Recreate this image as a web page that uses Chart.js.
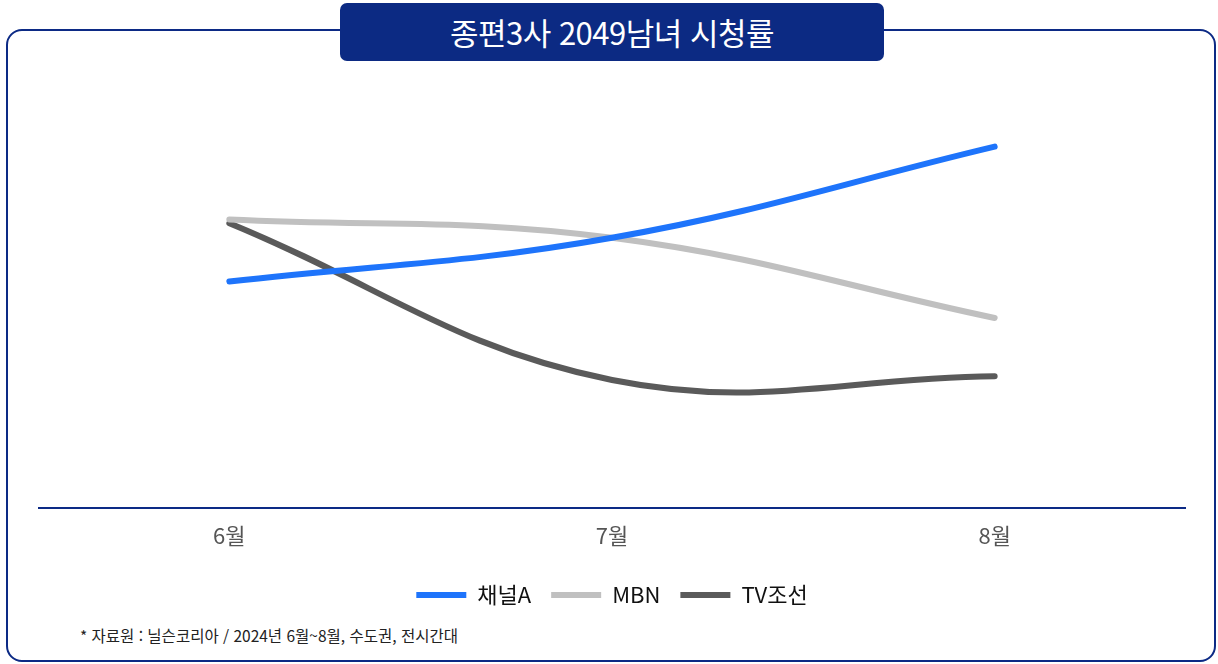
<!DOCTYPE html>
<html lang="ko">
<head>
<meta charset="utf-8">
<script src="https://cdn.jsdelivr.net/npm/chart.js@4/dist/chart.umd.min.js"></script>
<style>
  html, body { margin: 0; padding: 0; background: #fff; }
  body { width: 1218px; height: 664px; position: relative; overflow: hidden;
         font-family: "Noto Sans CJK KR", "Noto Sans", sans-serif; }
  .frame { position: absolute; left: 6px; top: 29px; width: 1206px; height: 629px;
           border: 2px solid #0c2a85; border-radius: 16px; }
  .title { position: absolute; left: 340px; top: 3px; width: 544px; height: 58px;
           background: #0c2a83; border-radius: 7px; color: #fff; font-size: 31px;
           font-weight: 400; text-align: center; line-height: 58px; letter-spacing: -0.5px; }
  .chart-box { position: absolute; left: 38px; top: 70px; width: 1148px; height: 546px; }
  .note { position: absolute; left: 80px; top: 624px; font-size: 15.5px; color: #222; }
</style>
</head>
<body>
<div class="frame"></div>
<div class="title">종편3사 2049남녀 시청률</div>
<div class="chart-box"><canvas id="myChart"></canvas></div>
<div class="note">* 자료원 : 닐슨코리아 / 2024년 6월~8월, 수도권, 전시간대</div>
<script>
// values (no axis shown, relative scale)
const months = ["6월", "7월", "8월"];
const channelA = [0.62, 0.74, 0.99];
const mbn = [0.79, 0.74, 0.52];
const tvChosun = [0.78, 0.35, 0.36];

function makeSet(label, data, color) {
  return {
    label: label,
    data: data,
    borderColor: color,
    backgroundColor: color,
    borderWidth: 6,
    borderCapStyle: "round",
    borderJoinStyle: "round",
    pointRadius: 0,
    pointHoverRadius: 0,
    tension: 0.4,
    clip: false,
  };
}

const ctx = document.getElementById("myChart").getContext("2d");
const myChart = new Chart(ctx, {
  type: "line",
  data: {
    labels: months,
    datasets: [
      makeSet("채널A", channelA, "#1e74fb"),
      makeSet("MBN", mbn, "#c0c0c0"),
      makeSet("TV조선", tvChosun, "#5a5a5a"),
    ],
  },
  options: {
    responsive: true,
    maintainAspectRatio: false,
    animation: false,
    layout: { padding: 0 },
    scales: {
      x: {
        offset: true,
        grid: { display: false, drawTicks: false },
        border: { display: true, color: "#0c2a85", width: 2 },
        ticks: {
          padding: 15,
          color: "#555",
          font: { family: "'Noto Sans CJK KR'", size: 22 },
        },
      },
      y: {
        display: false,
        min: 0,
        max: 1.2,
      },
    },
    plugins: {
      tooltip: { enabled: false },
      legend: {
        position: "bottom",
        labels: {
          usePointStyle: true,
          pointStyle: "line",
          pointStyleWidth: 50,
          padding: 20,
          color: "#111",
          font: { family: "'Noto Sans CJK KR'", size: 22 },
        },
      },
    },
  },
});
</script>
</body>
</html>
